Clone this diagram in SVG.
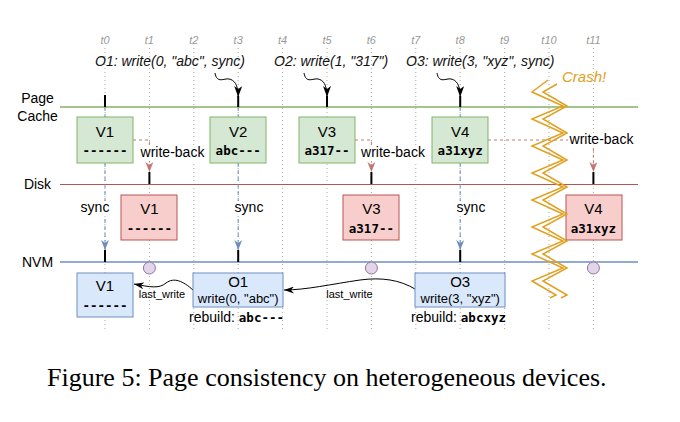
<svg xmlns="http://www.w3.org/2000/svg" width="680" height="422" viewBox="0 0 680 422">
<style>
.tl{font-family:"Liberation Sans",Arial,sans-serif;font-style:italic;font-size:11px;fill:#999;text-anchor:middle}
.op{font-family:"Liberation Sans",Arial,sans-serif;font-style:italic;font-size:14px;fill:#111}
.lane{font-family:"Liberation Sans",Arial,sans-serif;font-size:14px;fill:#000;text-anchor:middle}
.lbl{font-family:"Liberation Sans",Arial,sans-serif;font-size:14px;fill:#000;text-anchor:middle}
.vl{font-family:"Liberation Sans",Arial,sans-serif;font-size:15px;fill:#000;text-anchor:middle}
.mono{font-family:"DejaVu Sans Mono","Liberation Mono",monospace;font-weight:bold;font-size:12.5px;fill:#000}
.sm{font-family:"Liberation Sans",Arial,sans-serif;font-size:11px;fill:#000;text-anchor:middle}
.wr{font-family:"Liberation Sans",Arial,sans-serif;font-size:13px;fill:#000;text-anchor:middle}
.grid{stroke:#aaa;stroke-width:1;stroke-dasharray:1 3}
.g{fill:#d5e8d4;stroke:#82b366;stroke-width:1}
.r{fill:#f8cecc;stroke:#b85450;stroke-width:1}
.b{fill:#dae8fc;stroke:#6c8ebf;stroke-width:1}
.tick{stroke:#000;stroke-width:2}
.sync{stroke:#6c8ebf;stroke-width:1;stroke-dasharray:4 3;fill:none}
.wb{stroke:#b85450;stroke-width:1;stroke-dasharray:3 3;fill:none;opacity:0.8}
.curl{stroke:#000;stroke-width:1;fill:none}
.zz{stroke:#e0a020;stroke-width:1.5;fill:none}
.bg{fill:#fff}
</style>
<defs>
<marker id="ab" viewBox="0 0 11 8" refX="11" refY="4" markerWidth="11" markerHeight="8" markerUnits="userSpaceOnUse" orient="auto"><path d="M0,0 L11,4 L0,8 L3,4 z" fill="#000"/></marker>
<marker id="abl" viewBox="0 0 10 8" refX="10" refY="4" markerWidth="10" markerHeight="8" markerUnits="userSpaceOnUse" orient="auto"><path d="M0,0 L10,4 L0,8 L3,4 z" fill="#6c8ebf"/></marker>
<marker id="ar" viewBox="0 0 10 8" refX="10" refY="4" markerWidth="10" markerHeight="8" markerUnits="userSpaceOnUse" orient="auto"><path d="M0,0 L10,4 L0,8 L3,4 z" fill="#b85450"/></marker>
<marker id="al" viewBox="0 0 10 7" refX="10" refY="3.5" markerWidth="10" markerHeight="7" markerUnits="userSpaceOnUse" orient="auto"><path d="M0,0 L10,3.5 L0,7 L3,3.5 z" fill="#000"/></marker>
</defs>

<g id="timeline">
<g class="grid">
<line x1="105" y1="48" x2="105" y2="330"/>
<line x1="149.4" y1="48" x2="149.4" y2="330"/>
<line x1="193.8" y1="48" x2="193.8" y2="330"/>
<line x1="238.2" y1="48" x2="238.2" y2="330"/>
<line x1="282.6" y1="48" x2="282.6" y2="330"/>
<line x1="327" y1="48" x2="327" y2="330"/>
<line x1="371.4" y1="48" x2="371.4" y2="330"/>
<line x1="415.8" y1="48" x2="415.8" y2="330"/>
<line x1="460.2" y1="48" x2="460.2" y2="330"/>
<line x1="504.6" y1="48" x2="504.6" y2="330"/>
<line x1="549" y1="48" x2="549" y2="330"/>
<line x1="593.4" y1="48" x2="593.4" y2="330"/>
</g>
<text class="tl" x="105" y="44">t0</text>
<text class="tl" x="149.4" y="44">t1</text>
<text class="tl" x="193.8" y="44">t2</text>
<text class="tl" x="238.2" y="44">t3</text>
<text class="tl" x="282.6" y="44">t4</text>
<text class="tl" x="327" y="44">t5</text>
<text class="tl" x="371.4" y="44">t6</text>
<text class="tl" x="415.8" y="44">t7</text>
<text class="tl" x="460.2" y="44">t8</text>
<text class="tl" x="504.6" y="44">t9</text>
<text class="tl" x="549" y="44">t10</text>
<text class="tl" x="593.4" y="44">t11</text>
</g>

<g id="lanes">
<line x1="60" y1="107" x2="638" y2="107" stroke="#82b366" stroke-width="1.5"/>
<line x1="60" y1="184.5" x2="638" y2="184.5" stroke="#b85450" stroke-width="1"/>
<line x1="60" y1="262" x2="638" y2="262" stroke="#6c8ebf" stroke-width="1.5"/>
<text class="lane" x="37.5" y="103">Page</text>
<text class="lane" x="37.5" y="121">Cache</text>
<text class="lane" x="37.5" y="189">Disk</text>
<text class="lane" x="37.5" y="267">NVM</text>
</g>

<g id="ops">
<text class="op" x="95" y="66">O1: write(0, "abc", sync)</text>
<text class="op" x="274" y="66">O2: write(1, "317")</text>
<text class="op" x="406" y="66">O3: write(3, "xyz", sync)</text>
</g>

<g id="connectors">
<path class="curl" d="M215,73 C217,84 224,78 229,79 C234,80 238.2,84 238.2,97" marker-end="url(#ab)"/>
<path class="curl" d="M304,73 C306,84 313,78 318,79 C323,80 327,84 327,97" marker-end="url(#ab)"/>
<path class="curl" d="M437,73 C439,84 446,78 451,79 C456,80 460.2,84 460.2,97" marker-end="url(#ab)"/>
<line class="tick" x1="105" y1="95" x2="105" y2="107"/>
<line class="tick" x1="238.2" y1="96" x2="238.2" y2="107"/>
<line class="tick" x1="327" y1="96" x2="327" y2="107"/>
<line class="tick" x1="460.2" y1="96" x2="460.2" y2="107"/>
<path class="sync" d="M105,107 V250" marker-end="url(#abl)"/>
<path class="sync" d="M238.2,107 V250" marker-end="url(#abl)"/>
<path class="sync" d="M460.2,107 V250" marker-end="url(#abl)"/>
<line class="tick" x1="105" y1="250" x2="105" y2="262"/>
<line class="tick" x1="238.2" y1="250" x2="238.2" y2="262"/>
<line class="tick" x1="460.2" y1="250" x2="460.2" y2="262"/>
<path class="wb" d="M133,140 H149.4 V172" marker-end="url(#ar)"/>
<path class="wb" d="M355,140 H371.4 V172" marker-end="url(#ar)"/>
<path class="wb" d="M488,140 H593.4 V172" marker-end="url(#ar)"/>
<line class="tick" x1="149.4" y1="172" x2="149.4" y2="184"/>
<line class="tick" x1="371.4" y1="172" x2="371.4" y2="184"/>
<line class="tick" x1="593.4" y1="172" x2="593.4" y2="184"/>
<path class="curl" d="M193,290 C183,281 174,277 166,283 C159,289 150,287 134,284" marker-end="url(#al)"/>
<path class="curl" d="M415,289 C400,280 382,277 360,280 C332,284 306,290 284,290" marker-end="url(#al)"/>
</g>

<g id="labels">
<rect class="bg" x="139" y="146" width="67" height="15"/>
<text class="lbl" x="172.5" y="157">write-back</text>
<rect class="bg" x="360" y="146" width="67" height="15"/>
<text class="lbl" x="393" y="157">write-back</text>
<rect class="bg" x="568" y="133" width="67" height="15"/>
<text class="lbl" x="601.5" y="144">write-back</text>
<rect class="bg" x="80" y="201" width="30" height="15"/>
<text class="lbl" x="95" y="212">sync</text>
<rect class="bg" x="234" y="201" width="30" height="15"/>
<text class="lbl" x="249" y="212">sync</text>
<rect class="bg" x="456" y="201" width="30" height="15"/>
<text class="lbl" x="471" y="212">sync</text>
<text class="sm" x="162" y="298">last_write</text>
<text class="sm" x="349.5" y="298">last_write</text>
</g>

<g id="pc-v1"><rect class="g" x="77" y="117" width="56" height="46"/><text class="vl" x="105" y="137">V1</text><text class="mono" x="105" y="155" text-anchor="middle">------</text></g>
<g id="pc-v2"><rect class="g" x="210" y="117" width="56" height="46"/><text class="vl" x="238.2" y="137">V2</text><text class="mono" x="238.2" y="155" text-anchor="middle">abc---</text></g>
<g id="pc-v3"><rect class="g" x="299" y="117" width="56" height="46"/><text class="vl" x="327" y="137">V3</text><text class="mono" x="327" y="155" text-anchor="middle">a317--</text></g>
<g id="pc-v4"><rect class="g" x="432" y="117" width="56" height="46"/><text class="vl" x="460.2" y="137">V4</text><text class="mono" x="460.2" y="155" text-anchor="middle">a31xyz</text></g>

<g id="disk-v1"><rect class="r" x="121" y="195" width="56" height="45"/><text class="vl" x="149.4" y="214">V1</text><text class="mono" x="149.4" y="233" text-anchor="middle">------</text></g>
<g id="disk-v3"><rect class="r" x="343" y="195" width="56" height="45"/><text class="vl" x="371.4" y="214">V3</text><text class="mono" x="371.4" y="233" text-anchor="middle">a317--</text></g>
<g id="disk-v4"><rect class="r" x="566" y="195" width="56" height="45"/><text class="vl" x="593.4" y="214">V4</text><text class="mono" x="593.4" y="233" text-anchor="middle">a31xyz</text></g>

<g id="nvm-v1"><rect class="b" x="77" y="273" width="56" height="44"/><text class="vl" x="105" y="291">V1</text><text class="mono" x="105" y="310" text-anchor="middle">------</text></g>
<g id="nvm-o1"><rect class="b" x="193" y="273" width="90" height="34"/><text class="vl" x="238.2" y="287">O1</text><text class="wr" x="238.2" y="303">write(0, "abc")</text>
<text x="236.5" y="322" text-anchor="middle"><tspan class="lbl">rebuild: </tspan><tspan class="mono">abc---</tspan></text></g>
<g id="nvm-o3"><rect class="b" x="415" y="273" width="90" height="34"/><text class="vl" x="460.2" y="287">O3</text><text class="wr" x="460.2" y="303">write(3, "xyz")</text>
<text x="458.5" y="322" text-anchor="middle"><tspan class="lbl">rebuild: </tspan><tspan class="mono">abcxyz</tspan></text></g>

<g id="pmem-marks">
<circle cx="149.4" cy="268" r="6" fill="#e1d5e7" stroke="#9673a6"/>
<circle cx="371.4" cy="268" r="6" fill="#e1d5e7" stroke="#9673a6"/>
<circle cx="593.4" cy="268" r="6" fill="#e1d5e7" stroke="#9673a6"/>
</g>

<g id="crash">
<polyline class="zz" points="548,80 532,92 563,106 532,119 563,133 532,146 563,160 532,173 563,187 532,200 563,214 532,227 563,241 532,254 563,268 532,281 556,295 550,298"/>
<polyline class="zz" points="557,84 543,92 567,106 543,119 567,133 543,146 567,160 543,173 567,187 543,200 567,214 543,227 567,241 543,254 567,268 543,281 567,295 561,298"/>
<text x="562" y="82" font-family="Liberation Sans, Arial, sans-serif" font-style="italic" font-size="15" fill="#e0a020">Crash!</text>
</g>

<text id="caption" x="47" y="386" font-family="Liberation Serif, Times New Roman, serif" font-size="26" fill="#000">Figure 5: Page consistency on heterogeneous devices.</text>
</svg>
